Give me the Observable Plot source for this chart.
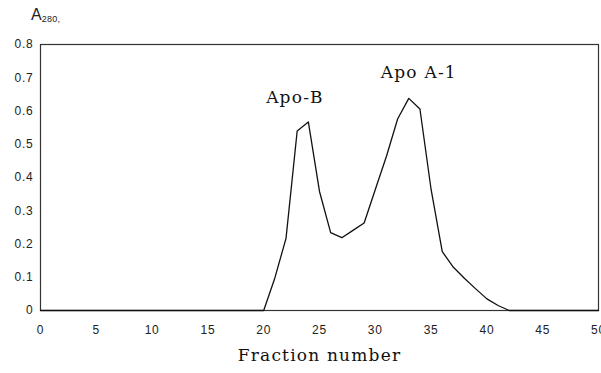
<!DOCTYPE html>
<html>
<head>
<meta charset="utf-8">
<script src="https://cdn.jsdelivr.net/npm/d3@7"></script>
<script src="https://cdn.jsdelivr.net/npm/@observablehq/plot@0.6"></script>
<style>
  html, body { margin: 0; padding: 0; background: #fff; overflow: hidden; }
  #wrap { width: 601px; height: 373px; position: relative; }
  #ylab { height: 28px; font-family: "Liberation Sans", Arial, sans-serif; font-size: 16px; color: #222; padding-left: 31px; box-sizing: border-box; line-height: 30px; }
  #ylab sub { font-size: 9px; vertical-align: -2px; letter-spacing: 0.3px; }
  svg { display: block; overflow: visible; }
  g[aria-label="text"] text { letter-spacing: 1.2px; }
  g[aria-label$="tick label"] text { letter-spacing: 0.8px; }
</style>
</head>
<body>
<div id="wrap">
  <div id="ylab">A<sub>280,</sub></div>
  <div id="chart"></div>
</div>
<script>
// Fraction numbers and absorbance A280
const fractions = [0,1,2,3,4,5,6,7,8,9,10,11,12,13,14,15,16,17,18,19,20,21,22,23,24,25,26,27,28,29,30,31,32,33,34,35,36,37,38,39,40,41,42,43,44,45,46,47,48,49,50];
const absorbance = [0,0,0,0,0,0,0,0,0,0,0,0,0,0,0,0,0,0,0,0,0,0.098,0.217,0.54,0.567,0.358,0.234,0.219,0.241,0.263,0.364,0.464,0.576,0.638,0.606,0.364,0.177,0.13,0.096,0.065,0.035,0.015,0,0,0,0,0,0,0,0,0];

const peakLabels = ["Apo-B", "Apo A-1"];
const peakLabelX = [22.8, 33.9];
const peakLabelY = [0.623, 0.70];

const xTicks = [0,5,10,15,20,25,30,35,40,45,50];
const yTicks = [0,0.1,0.2,0.3,0.4,0.5,0.6,0.7,0.8];
const yTickLabels = ["0","0.1","0.2","0.3","0.4","0.5","0.6","0.7","0.8"];
const xAxisTitle = "Fraction number";

const data = fractions.map((f, i) => ({f, a: absorbance[i]}));
const peaks = peakLabels.map((t, i) => ({t, x: peakLabelX[i], y: peakLabelY[i]}));

const chart = Plot.plot({
  width: 601,
  height: 345,
  marginLeft: 40,
  marginRight: 3,
  marginTop: 16,
  marginBottom: 63,
  style: {background: "#fff", fontFamily: "Liberation Sans, Arial, sans-serif", fontSize: "12px", color: "#222"},
  x: {domain: [0, 50], ticks: xTicks, tickFormat: d => String(d), tickSize: 0, tickPadding: 15, label: null},
  y: {domain: [0, 0.8], ticks: yTicks, tickFormat: d => yTickLabels[yTicks.indexOf(d)] ?? "", tickSize: 0, tickPadding: 7, label: null},
  marks: [
    Plot.frame({stroke: "#333", strokeWidth: 1.2}),
    Plot.line(data, {x: "f", y: "a", stroke: "#111", strokeWidth: 1.3}),
    Plot.text(peaks, {x: "x", y: "y", text: "t", fontFamily: "DejaVu Serif, serif", fontSize: 17, fill: "#111", textAnchor: "middle", lineAnchor: "bottom"}),
    Plot.text([xAxisTitle], {frameAnchor: "bottom", dy: 50, text: d => d, fontFamily: "DejaVu Serif, serif", fontSize: 17, fill: "#111"})
  ]
});
document.getElementById("chart").appendChild(chart);
</script>
</body>
</html>
